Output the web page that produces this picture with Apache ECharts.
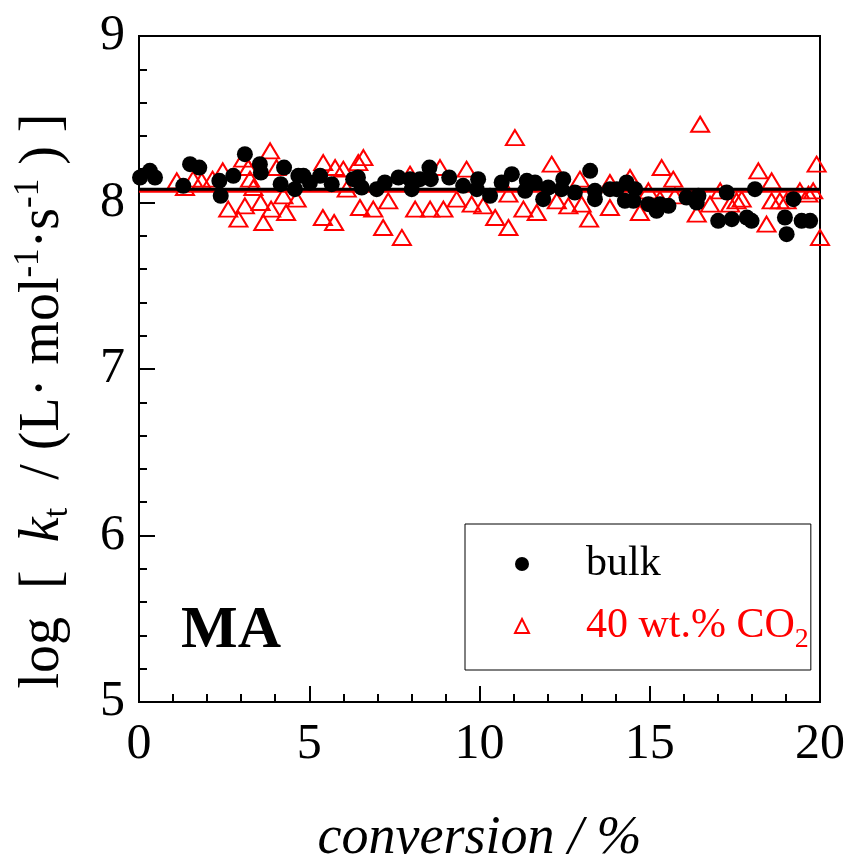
<!DOCTYPE html>
<html>
<head>
<meta charset="utf-8">
<script src="https://cdn.jsdelivr.net/npm/echarts@6/dist/echarts.min.js"></script>
<style>
html,body{margin:0;padding:0;background:#fff;}
#chart{width:850px;height:861px;}
</style>
</head>
<body>
<div id="chart"></div>
<script>
// conversion / %  and log kt for bulk MA
const bulkX = [0.03,0.32,0.47,1.30,1.50,1.77,2.36,2.40,2.77,3.11,3.55,3.58,4.26,4.16,4.58,4.68,4.83,5.02,5.32,5.66,6.29,6.43,6.54,
  6.98,7.22,7.62,7.96,8.01,8.25,8.53,8.57,9.11,9.52,9.96,9.92,10.31,10.65,10.95,11.39,11.34,11.63,11.87,12.02,12.46,12.41,12.80,13.25,13.39,
  13.39,13.83,14.03,14.27,14.32,14.57,14.52,14.96,15.20,15.30,15.55,16.08,16.38,16.43,17.01,17.26,17.41,17.85,17.99,18.09,18.97,19.02,19.22,19.46,19.71];
const bulkY = [8.15,8.19,8.15,8.10,8.23,8.21,8.13,8.04,8.16,8.29,8.23,8.18,8.21,8.11,8.08,8.16,8.16,8.12,8.16,8.11,8.14,8.15,8.09,
  8.08,8.12,8.15,8.14,8.08,8.14,8.21,8.14,8.15,8.10,8.14,8.08,8.04,8.12,8.17,8.13,8.07,8.12,8.02,8.09,8.14,8.08,8.06,8.19,8.07,
  8.02,8.08,8.08,8.01,8.12,8.08,8.01,7.99,7.95,7.99,7.98,8.03,8.00,8.04,7.89,8.06,7.90,7.91,7.89,8.08,7.91,7.81,8.02,7.89,7.89];
// 40 wt.% CO2
const co2X = [1.11,1.35,1.59,1.84,2.16,2.46,2.62,2.92,3.11,3.06,3.21,3.26,3.36,3.57,3.65,3.85,3.88,4.04,4.24,4.32,4.63,5.40,5.41,5.73,5.76,6.00,6.10,6.44,6.49,6.59,
  6.88,7.17,7.32,7.72,7.96,8.11,8.55,8.84,8.94,9.33,9.62,9.77,10.11,10.46,10.85,10.85,11.04,11.29,11.68,12.12,12.27,12.61,12.95,13.00,13.22,
  13.83,13.83,14.42,14.71,14.96,15.35,15.30,15.69,15.74,16.38,16.48,16.77,17.07,17.36,17.55,17.70,18.19,18.43,18.58,18.58,18.82,19.02,19.41,19.66,19.80,19.90,20.00];
const co2Y = [8.13,8.09,8.14,8.13,8.14,8.19,7.96,7.90,7.98,8.26,8.21,8.14,8.09,8.00,7.88,8.31,7.96,8.21,8.04,7.94,8.02,7.91,8.24,7.88,8.21,8.20,8.08,8.24,7.97,8.27,
  7.96,7.85,8.01,7.79,8.17,7.96,7.96,8.21,7.96,8.02,8.20,7.99,7.98,7.91,7.85,8.05,8.39,7.96,7.94,8.23,8.01,7.98,8.14,7.99,7.90,
  7.97,8.12,8.15,7.94,8.07,8.21,8.02,8.14,8.04,7.93,8.47,7.99,8.07,7.99,8.01,8.02,8.19,7.87,8.13,8.01,8.01,8.01,8.07,8.05,8.07,8.23,7.79];
// mean lines
const fitRange = [0, 20];
const bulkFit = 8.079;
const co2Fit = 8.067;
const xTicks = [0, 5, 10, 15, 20];
const yTicks = [5, 6, 7, 8, 9];

const zip = (xs, ys) => xs.map((x, i) => [x, ys[i]]);
const serif = 'Liberation Serif';

const chart = echarts.init(document.getElementById('chart'), null, {renderer: 'canvas'});
chart.setOption({
  animation: false,
  backgroundColor: '#fff',
  grid: {left: 139, right: 30, top: 36, bottom: 159, containLabel: false, outerBoundsMode: 'none',
    show: true, borderColor: '#000', borderWidth: 2, backgroundColor: 'transparent'},
  xAxis: {
    type: 'value', min: xTicks[0], max: xTicks[xTicks.length-1], interval: 5,
    name: 'conversion / %', nameLocation: 'middle', nameGap: 110,
    nameTextStyle: {fontFamily: serif, fontStyle: 'italic', fontSize: 54, color: '#000'},
    axisLine: {show: true, lineStyle: {color: '#000', width: 2}},
    axisTick: {show: true, inside: true, length: 16, lineStyle: {color: '#000', width: 2}},
    minorTick: {show: true, splitNumber: 5, length: 8, lineStyle: {color: '#000', width: 2}},
    axisLabel: {fontFamily: serif, fontSize: 50, color: '#000', margin: 18},
    splitLine: {show: false}
  },
  yAxis: {
    type: 'value', min: yTicks[0], max: yTicks[yTicks.length-1], interval: 1,
    name: '{m|log  [  }{i|k}{sb|t}{m|  / (L· mol}{sp|-1}{m|·s}{sp|-1}{e| ) ]}',
    nameLocation: 'middle', nameGap: 64,
    nameTextStyle: {
      fontFamily: serif, fontSize: 56, color: '#000',
      rich: {
        m: {fontFamily: serif, fontSize: 56, lineHeight: 64, verticalAlign: 'middle', color: '#000'},
        e: {fontFamily: serif, fontSize: 56, lineHeight: 64, verticalAlign: 'middle', color: '#000', padding: [0, 64, 0, 0]},
        i: {fontFamily: serif, fontSize: 56, lineHeight: 64, fontStyle: 'italic', verticalAlign: 'middle', color: '#000'},
        sb: {fontFamily: serif, fontSize: 35, lineHeight: 35, verticalAlign: 'bottom', color: '#000'},
        sp: {fontFamily: serif, fontSize: 35, lineHeight: 35, verticalAlign: 'top', color: '#000'}
      }
    },
    axisLine: {show: true, lineStyle: {color: '#000', width: 2}},
    axisTick: {show: true, inside: true, length: 16, lineStyle: {color: '#000', width: 2}},
    minorTick: {show: true, splitNumber: 5, length: 8, lineStyle: {color: '#000', width: 2}},
    axisLabel: {fontFamily: serif, fontSize: 50, color: '#000', margin: 14},
    splitLine: {show: false}
  },
  legend: {
    show: true, orient: 'vertical', left: 465, top: 524,
    data: ['bulk', '40 wt.% CO2'],
    backgroundColor: '#fff', borderColor: '#000', borderWidth: 1,
    padding: [12, 2, 16, 49], itemGap: 6,
    itemWidth: 14, itemHeight: 14,
    formatter: n => n === 'bulk' ? '{a|bulk}{z| }' : '{r|40 wt.% CO}{s|2}',
    textStyle: {
      fontFamily: serif, fontSize: 42, color: '#000', padding: [0, 0, 0, 52],
      rich: {
        a: {fontFamily: serif, fontSize: 42, lineHeight: 56, color: '#000', verticalAlign: 'middle'},
        z: {fontFamily: serif, fontSize: 10, lineHeight: 10, padding: [46, 0, 0, 0], verticalAlign: 'bottom'},
        r: {fontFamily: serif, fontSize: 42, lineHeight: 56, color: '#ff0000', verticalAlign: 'middle'},
        s: {fontFamily: serif, fontSize: 28, lineHeight: 28, padding: [28, 0, 0, 0], color: '#ff0000', verticalAlign: 'bottom'}
      }
    }
  },
  graphic: [{
    type: 'text', left: 181, top: 601, z: 100,
    style: {text: 'MA', font: 'bold 60px "Liberation Serif"', fill: '#000'}
  }],
  series: [
    {
      name: '40 wt.% CO2', type: 'scatter', z: 3,
      symbol: 'triangle', symbolSize: [18, 15],
      itemStyle: {color: 'rgba(255,0,0,0)', borderColor: '#ff0000', borderWidth: 2, opacity: 1},
      data: zip(co2X, co2Y)
    },
    {
      name: 'co2fit', type: 'line', z: 4, symbol: 'none',
      lineStyle: {color: '#ff0000', width: 3},
      data: fitRange.map(x => [x, co2Fit])
    },
    {
      name: 'bulkfit', type: 'line', z: 5, symbol: 'none',
      lineStyle: {color: '#000', width: 3},
      data: fitRange.map(x => [x, bulkFit])
    },
    {
      name: 'bulk', type: 'scatter', z: 6,
      symbol: 'circle', symbolSize: 16,
      itemStyle: {color: '#000', opacity: 1},
      data: zip(bulkX, bulkY)
    }
  ]
});
</script>
</body>
</html>
